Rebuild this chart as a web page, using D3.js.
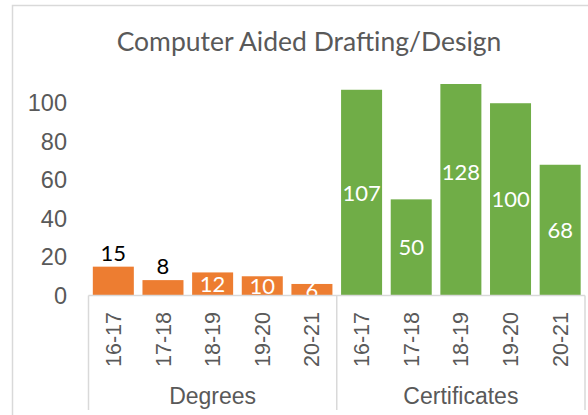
<!DOCTYPE html>
<html>
<head>
<meta charset="utf-8">
<script src="https://cdn.jsdelivr.net/npm/d3@7"></script>
<style>
  body { margin: 0; background: #fff; }
  svg { display: block; }
</style>
</head>
<body>
<svg width="588" height="415"></svg>
<script>
// values
var title = "Computer Aided Drafting/Design";
var years = ["16-17", "17-18", "18-19", "19-20", "20-21"];
var groups = ["Degrees", "Certificates"];
var degrees = [15, 8, 12, 10, 6];
var certificates = [107, 50, 128, 100, 68];
var yTicks = [0, 20, 40, 60, 80, 100];
var yMax = 110;   // axis is cut here, so the 128 bar runs off the top

var seriesValues = [degrees, certificates];
var colors = ["#ED7D31", "#70AD47"];

var rows = [];
groups.forEach(function(g, gi) {
  years.forEach(function(yr, i) {
    rows.push({ key: g + " " + yr, group: g, gi: gi, year: yr, value: seriesValues[gi][i] });
  });
});

// the two small degree bars have their labels set outside, in black
var outsideLabels = ["Degrees 16-17", "Degrees 17-18"];

var svg = d3.select("svg");

svg.append("rect")
  .attr("x", 12.5).attr("y", 5.5)
  .attr("width", 620).attr("height", 440)
  .attr("fill", "none")
  .attr("stroke", "#d9d9d9")
  .attr("stroke-width", 1.5);

var x = d3.scaleBand()
  .domain(rows.map(d => d.key))
  .range([88.5, 585])
  .paddingInner(0.174)
  .paddingOuter(0.087);

var y = d3.scaleLinear()
  .domain([0, yMax])
  .range([295.5, 84]);

svg.append("text")
  .attr("x", 309).attr("y", 51)
  .attr("text-anchor", "middle")
  .attr("font-family", "Lato, 'Open Sans', sans-serif")
  .attr("font-size", 26.5)
  .attr("fill", "#595959")
  .text(title);

// y axis labels only, no line
var yAxis = svg.append("g")
  .attr("transform", "translate(67,0)")
  .call(d3.axisLeft(y).tickValues(yTicks).tickSize(0).tickPadding(0));
yAxis.select(".domain").remove();
yAxis.selectAll("text")
  .attr("font-family", "'Liberation Sans', Arial, sans-serif")
  .attr("font-size", 23.5)
  .attr("fill", "#595959");

svg.append("defs").append("clipPath")
  .attr("id", "plot")
  .append("rect")
  .attr("x", 88.5).attr("y", y(yMax))
  .attr("width", 585 - 88.5).attr("height", y(0) - y(yMax));

var plot = svg.append("g").attr("clip-path", "url(#plot)");

plot.selectAll("rect.bar")
  .data(rows)
  .enter().append("rect")
  .attr("class", "bar")
  .attr("x", d => x(d.key))
  .attr("width", x.bandwidth())
  .attr("y", d => y(d.value))
  .attr("height", d => y(0) - y(d.value))
  .attr("fill", d => colors[d.gi]);

plot.selectAll("text.lbl")
  .data(rows)
  .enter().append("text")
  .attr("class", "lbl")
  .attr("x", d => x(d.key) + x.bandwidth() / 2)
  .attr("y", function(d) {
    if (outsideLabels.indexOf(d.key) >= 0) return y(d.value) - 6;
    return (y(d.value) + y(0)) / 2;
  })
  .attr("dy", d => outsideLabels.indexOf(d.key) >= 0 ? 0 : "0.36em")
  .attr("text-anchor", "middle")
  .attr("font-family", "Lato, 'Open Sans', sans-serif")
  .attr("font-size", 22)
  .attr("fill", d => outsideLabels.indexOf(d.key) >= 0 ? "#000" : "#fff")
  .text(d => d.value);

// category axis: baseline plus group dividers
var axisColor = "#d9d9d9";
svg.append("line")
  .attr("x1", 88.5).attr("x2", 585)
  .attr("y1", y(0)).attr("y2", y(0))
  .attr("stroke", axisColor).attr("stroke-width", 1.5);

var bounds = [88.5, (88.5 + 585) / 2, 585];
svg.selectAll("line.div")
  .data(bounds)
  .enter().append("line")
  .attr("class", "div")
  .attr("x1", d => d).attr("x2", d => d)
  .attr("y1", y(0)).attr("y2", 410)
  .attr("stroke", axisColor).attr("stroke-width", 1.5);

svg.selectAll("text.tick")
  .data(rows)
  .enter().append("text")
  .attr("class", "tick")
  .attr("transform", d => "translate(" + (x(d.key) + x.bandwidth() / 2) + ",312) rotate(-90)")
  .attr("dy", "0.35em")
  .attr("text-anchor", "end")
  .attr("font-family", "'Liberation Sans', Arial, sans-serif")
  .attr("font-size", 21.5)
  .attr("fill", "#595959")
  .text(d => d.year);

svg.selectAll("text.grp")
  .data(groups)
  .enter().append("text")
  .attr("class", "grp")
  .attr("x", (d, i) => (bounds[i] + bounds[i + 1]) / 2)
  .attr("y", 404)
  .attr("text-anchor", "middle")
  .attr("font-family", "'Liberation Sans', Arial, sans-serif")
  .attr("font-size", 23)
  .attr("fill", "#595959")
  .text(d => d);
</script>
</body>
</html>
